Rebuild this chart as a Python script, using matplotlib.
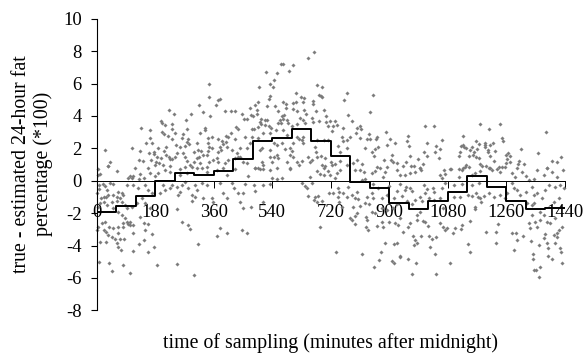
"""
Difference between true and estimated 24-hour fat percentage by time of sampling.
"""

import matplotlib
matplotlib.use("Agg")
import matplotlib.pyplot as plt

plt.rcParams['font.family'] = ['Liberation Serif', 'DejaVu Serif']

# Hourly mean of the difference (one value per 60 minute bin)
bin_edges = list(range(0, 1500, 60))
bin_means = [-1.96, -1.55, -0.95, -0.02, 0.50, 0.35, 0.60, 1.32, 2.45, 2.65, 3.20, 2.47,
             1.52, -0.06, -0.43, -1.40, -1.75, -1.25, -0.68, 0.29, -0.37, -1.24, -1.75, -1.67]

# Individual samples (minutes, difference)
samples_night_upper = [
    (344, 5.95), (347, 5.19), (378, 5.07), (373, 4.99), (367, 4.66), (316, 4.70), (327, 4.22), (348, 4.00),
    (223, 4.35), (238, 4.14), (290, 4.12), (275, 3.77), (197, 3.71), (201, 3.54), (209, 3.42), (233, 3.52),
    (137, 3.25), (165, 3.15), (231, 3.21), (277, 3.19), (332, 3.25), (333, 3.11), (201, 3.01), (208, 2.88),
    (241, 2.93), (319, 2.95), (265, 2.86), (261, 2.64), (219, 2.76), (232, 2.60), (164, 2.62), (151, 2.35),
    (170, 2.31), (282, 2.55), (279, 2.41), (341, 2.62), (354, 2.68), (373, 2.58), (397, 2.78), (403, 2.72),
    (412, 2.93), (429, 3.30), (436, 3.17), (394, 4.28), (413, 4.28), (424, 4.28), (426, 2.55), (387, 2.45),
    (397, 2.41), (390, 2.27), (380, 2.10), (110, 2.04), (134, 1.83), (161, 1.73), (176, 1.79), (175, 1.65),
    (188, 2.04), (212, 2.06), (207, 1.85), (245, 2.18), (257, 2.10), (272, 2.16), (284, 2.27), (308, 2.31),
    (341, 2.31), (344, 2.10), (26, 1.90), (41, 1.13), (35, 0.91), (130, 1.26), (143, 1.24), (166, 1.28),
    (184, 1.48), (197, 1.42), (181, 1.17), (193, 1.07), (213, 1.61), (221, 1.48), (226, 1.34), (233, 1.32),
    (241, 1.44), (248, 1.69), (267, 1.73), (272, 1.44), (279, 1.24), (298, 1.79), (311, 1.87), (320, 1.85),
    (328, 1.59), (316, 1.44), (310, 1.42), (341, 1.85), (354, 2.00), (339, 1.59), (374, 1.75), (383, 1.90),
    (400, 2.10), (416, 1.90), (431, 1.69), (369, 1.38), (359, 1.28), (344, 1.17), (318, 1.07), (298, 1.17),
    (287, 0.97), (272, 0.87), (257, 0.74), (226, 0.91), (205, 0.97), (180, 0.97), (159, 0.76), (118, 0.76),
    (4, 0.74), (395, 1.07), (405, 1.28), (426, 1.38), (436, 1.48), (390, 0.76), (374, 1.17), (339, 0.87),
    (323, 0.76), (308, 0.76), (292, 0.82),
]
samples_night_lower = [
    (5, 0.35), (10, 0.39), (36, 0.91), (62, 0.62), (133, 0.39), (113, 0.31), (103, 0.29), (97, 0.19),
    (108, 0.14), (131, 0.10), (144, 0.19), (190, 0.45), (210, 0.66), (180, 0.31), (164, 0.45), (369, 0.66),
    (426, 0.72), (226, 0.56), (257, 0.35), (277, 0.45), (339, 0.56), (400, 0.35),
    (8, -0.27), (18, -0.23), (26, -0.31), (31, -0.58), (21, -0.99), (12, -1.09), (2, -0.78), (8, -0.52),
    (41, -0.16), (51, -0.23), (67, -0.68), (77, -0.78), (82, -0.89), (72, -1.09), (62, -0.99), (51, -0.89),
    (36, -0.89), (29, -0.99), (21, -1.30), (10, -1.40), (5, -1.61), (31, -1.50), (46, -1.30), (62, -1.26),
    (77, -1.30), (92, -0.27), (113, -0.27), (128, -0.47), (149, -0.27), (159, -0.58), (169, -0.78), (139, -1.09),
    (123, -1.40), (108, -1.61), (92, -1.71), (87, -1.50), (149, -1.40), (164, -1.71), (195, -0.78), (210, -0.58),
    (231, -0.27), (226, -0.47), (205, -0.27), (246, -0.37), (262, -0.27), (272, -0.06), (257, -0.68), (251, -0.89),
    (282, -0.47), (292, -0.89), (308, -0.58), (303, -0.99), (292, -1.26), (328, -1.09), (354, -1.09), (359, -1.30),
    (390, -0.78), (400, -1.09), (421, -0.47), (436, -0.78), (416, -0.16), (380, -0.16), (339, -0.27), (323, -0.16),
    (303, -0.27), (51, -1.71), (67, -1.92), (77, -2.12), (87, -2.33), (103, -2.53), (113, -2.74), (103, -2.74),
    (82, -2.84), (67, -2.84), (51, -2.95), (39, -2.84), (26, -2.53), (15, -2.64), (5, -2.84), (0, -3.05),
    (23, -3.05), (29, -3.15), (36, -3.36), (46, -3.46), (56, -3.61), (62, -3.87), (64, -4.08), (74, -4.28),
    (72, -3.61), (85, -3.61), (10, -3.77), (29, -3.81), (113, -3.25), (144, -2.64), (159, -2.70), (149, -3.05),
    (144, -3.67), (131, -3.91), (113, -4.35), (159, -4.43), (176, -4.12), (171, -3.30), (133, -2.22), (246, -1.77),
    (262, -2.53), (282, -2.74), (287, -2.99), (311, -3.91), (371, -3.40), (378, -2.90), (402, -3.25), (7, -5.01),
    (37, -5.05), (80, -5.21), (48, -5.58), (101, -5.71), (186, -5.21), (248, -5.15), (298, -5.83), (92, -2.53),
    (97, -2.70), (82, -2.64), (67, -3.25),
]
samples_day_upper = [
    (670, 7.93), (651, 7.56), (566, 7.23), (572, 7.19), (603, 7.15), (593, 6.80), (522, 6.74), (554, 6.63),
    (544, 6.24), (533, 5.95), (542, 5.81), (499, 5.77), (678, 5.89), (693, 5.79), (769, 5.44), (850, 5.31),
    (613, 5.40), (533, 5.23), (529, 5.07), (630, 5.19), (638, 5.11), (685, 5.29), (690, 5.25), (694, 5.15),
    (761, 5.01), (667, 4.94), (574, 4.84), (583, 4.74), (497, 4.86), (487, 4.68), (472, 4.51), (494, 4.37),
    (523, 4.64), (549, 4.64), (636, 4.84), (605, 4.82), (613, 4.84), (583, 4.51), (605, 4.43), (615, 4.33),
    (559, 4.31), (639, 4.37), (665, 4.72), (675, 4.31), (700, 4.37), (448, 4.14), (475, 4.06), (482, 4.00),
    (494, 4.12), (569, 4.00), (564, 3.75), (574, 3.81), (577, 4.06), (643, 4.12), (772, 4.08), (841, 4.22),
    (705, 4.00), (454, 3.79), (462, 3.79), (505, 3.81), (503, 3.61), (518, 3.75), (525, 3.75), (477, 3.19),
    (484, 3.17), (497, 3.30), (506, 3.50), (518, 3.44), (531, 3.36), (536, 3.23), (559, 3.54), (566, 3.58),
    (585, 3.75), (590, 3.54), (600, 3.40), (615, 3.48), (626, 3.85), (634, 3.75), (641, 3.54), (662, 3.85),
    (667, 3.65), (683, 3.67), (706, 3.65), (718, 3.69), (733, 3.69), (713, 3.38), (726, 3.38), (723, 3.09),
    (739, 3.44), (757, 3.23), (786, 3.71), (800, 3.23), (810, 3.38), (812, 3.17), (798, 2.93), (810, 2.66),
    (839, 2.86), (831, 2.58), (841, 2.55), (862, 2.72), (860, 2.58), (890, 2.99), (903, 2.58), (918, 2.31),
    (892, 2.20), (867, 2.06), (826, 2.00), (857, 1.94), (846, 1.79), (854, 1.52), (910, 1.59), (885, 1.28),
    (905, 1.28), (911, 1.17), (923, 1.11), (769, 2.51), (780, 2.72), (754, 2.72), (759, 2.47), (744, 2.14),
    (771, 2.00), (749, 1.79), (713, 2.51), (698, 2.51), (677, 2.51), (672, 2.06), (675, 1.79), (656, 1.17),
    (679, 1.48), (690, 1.54), (703, 1.38), (720, 1.17), (692, 0.97), (703, 0.91), (723, 0.97), (733, 1.03),
    (749, 1.22), (771, 0.97), (790, 1.11), (800, 1.28), (815, 1.03), (862, 0.87), (872, 0.76), (892, 0.87),
    (636, 2.72), (631, 2.51), (615, 2.72), (621, 2.55), (636, 2.31), (605, 2.31), (595, 2.00), (580, 1.94),
    (600, 1.85), (544, 2.31), (554, 2.20), (569, 2.31), (533, 1.90), (508, 2.00), (503, 1.90), (462, 2.00),
    (472, 2.31), (456, 2.72), (477, 2.72), (497, 2.62), (513, 2.93), (533, 2.93), (552, 3.13), (574, 3.13),
    (585, 2.82), (451, 1.17), (462, 1.07), (508, 1.17), (487, 0.76), (497, 0.76), (513, 0.97), (533, 1.48),
    (544, 1.44), (554, 1.59), (538, 1.17), (559, 1.38), (554, 0.76), (595, 1.59), (605, 1.48), (585, 1.17),
    (615, 1.17), (631, 1.24), (621, 0.97), (595, 0.76), (651, 1.48), (662, 1.28), (441, 1.48), (441, 2.00),
]
samples_day_lower = [
    (487, 0.76), (503, 0.72), (513, 0.70), (533, 0.66), (595, 0.72), (677, 0.60), (698, 0.80), (713, 0.60),
    (687, 0.39), (656, 0.25), (739, 0.45), (749, 0.66), (538, 0.14), (556, 0.10), (569, 0.14), (464, 0.31),
    (795, 0.66), (810, 0.66), (823, 0.56), (846, 0.45), (857, 0.60), (882, 0.25), (933, 0.35), (923, 0.66),
    (887, 0.56), (698, 0.35), (718, 0.35), (733, 0.14), (815, 0.04), (826, 0.10),
    (456, -0.23), (484, -0.27), (511, -0.27), (533, -0.23), (487, -0.64), (449, -0.78), (513, -1.30), (451, -1.67),
    (474, -1.65), (441, -1.34), (633, -0.16), (641, -0.31), (646, -0.47), (662, -0.16), (649, -0.95), (672, -0.99),
    (682, -0.93), (669, -1.19), (679, -1.30), (692, -1.26), (716, -0.78), (728, -0.78), (744, -0.47), (747, -0.68),
    (744, -0.99), (746, -1.30), (754, -1.61), (774, -0.37), (759, -0.78), (769, -0.99), (785, -0.89), (795, -1.09),
    (805, -1.15), (810, -1.55), (826, -1.40), (839, -1.46), (849, -1.09), (846, -0.78), (831, -0.99), (802, -0.72),
    (790, -1.61), (802, -2.02), (795, -2.16), (780, -2.29), (785, -2.43), (795, -2.70), (829, -2.22), (831, -2.43),
    (829, -2.84), (836, -3.05), (846, -1.92), (857, -2.02), (864, -2.78), (879, -2.53), (882, -2.84), (898, -2.53),
    (918, -2.64), (928, -2.74), (933, -2.33), (913, -1.71), (923, -1.46), (892, -1.81), (877, -1.71), (686, -2.86),
    (446, -3.05), (462, -3.23), (886, -3.83), (914, -3.91), (925, -3.83), (874, -4.39), (735, -4.43), (817, -4.53),
    (932, -4.70), (870, -4.90), (908, -4.96), (914, -5.11), (853, -5.31), (851, -0.23), (867, -0.43), (898, -0.31),
    (923, -0.64), (915, -1.09), (892, -0.89), (877, -1.09),
]
samples_evening_upper = [
    (1010, 3.40), (1039, 3.36), (1180, 3.50), (1240, 3.50), (1208, 3.17), (1383, 3.03), (959, 2.74), (1126, 2.76),
    (955, 2.43), (1063, 2.51), (1016, 2.31), (961, 2.16), (1247, 2.62), (1249, 2.47), (1043, 2.12), (1055, 1.96),
    (1127, 2.20), (1122, 2.16), (1131, 2.10), (1135, 2.04), (1167, 2.43), (1175, 2.27), (1155, 2.10), (1148, 1.87),
    (1162, 1.79), (1170, 1.96), (1196, 2.31), (1194, 2.20), (1209, 2.20), (1219, 2.35), (1196, 2.10), (1203, 1.90),
    (1203, 1.75), (1226, 1.83), (1119, 1.79), (1116, 1.50), (1146, 1.52), (1157, 1.57), (1167, 1.46), (1177, 1.38),
    (1008, 1.77), (1040, 1.75), (1054, 1.40), (1015, 1.50), (988, 1.36), (963, 1.50), (953, 1.17), (942, 0.91),
    (968, 0.93), (1003, 1.05), (996, 0.78), (1210, 1.50), (1221, 1.24), (1267, 1.73), (1273, 1.54), (1258, 1.59),
    (1262, 1.34), (1271, 1.17), (1307, 1.98), (1358, 1.71), (1300, 1.24), (1295, 1.03), (1316, 1.03), (1402, 1.22),
    (1415, 1.13), (1428, 1.44), (1385, 0.76), (1178, 1.05), (1187, 0.89), (1197, 0.89), (1211, 0.80), (1238, 0.84),
    (1256, 0.87), (1260, 1.07), (1135, 0.95), (1147, 0.82), (1127, 0.78), (1089, 0.74), (1069, 0.66), (1116, 0.70),
]
samples_evening_lower = [
    (975, 0.91), (994, 0.80), (998, 0.66), (965, 0.45), (980, 0.56), (949, 0.35), (1055, 0.35), (1062, 0.14),
    (1073, 0.39), (1088, 0.72), (1114, 0.25), (1124, 0.66), (1134, 0.87), (1155, 0.35), (1165, 0.45), (1180, 0.60),
    (1206, 0.76), (1216, 0.66), (1232, 0.72), (1247, 0.87), (1278, 0.45), (1288, 0.25), (1308, 0.56), (1322, 0.31),
    (1329, 0.04), (1344, 0.10), (1355, 0.66), (1375, 0.35), (1385, 0.76), (1401, 0.52), (1416, 0.25), (1434, 0.66),
    (1293, 0.80), (1242, 0.56),
    (934, -0.23), (952, -0.37), (965, -0.47), (970, -0.64), (949, -0.58), (1006, -0.27), (1016, -0.52), (1034, -0.47),
    (1037, -0.68), (1011, -0.78), (1062, -0.47), (1073, -0.16), (1098, -0.27), (1124, -0.23), (1057, -1.09), (939, -0.93),
    (955, -1.26), (970, -1.46), (996, -1.03), (980, -1.19), (1001, -1.26), (1024, -1.09), (1037, -1.19), (1067, -1.71),
    (1100, -0.99), (1119, -0.99), (1144, -0.89), (1155, -0.95), (1168, -0.78), (1172, -0.99), (1180, -1.09), (1191, -0.93),
    (1182, -1.30), (1165, -1.61), (1165, -1.75), (1149, -2.49), (1155, -0.27), (1177, -0.16), (1206, -0.78), (1221, -0.99),
    (1242, -0.89), (1257, -1.09), (1262, -0.78), (1278, -0.16), (1283, -0.47), (1293, -0.58), (1303, -0.89), (1322, -0.68),
    (1339, -0.37), (1344, -0.89), (1355, -0.78), (1370, -1.09), (1380, -0.58), (1391, -0.27), (1411, -0.37), (1426, -0.27),
    (1406, -1.30), (1421, -1.09), (1437, -0.47), (1324, -1.40), (1339, -1.50), (1344, -1.40), (1365, -1.92), (1375, -2.12),
    (1365, -2.43), (1350, -2.53), (1339, -2.12), (1329, -2.64), (1334, -2.95), (1355, -2.84), (1385, -2.53), (1396, -2.64),
    (1411, -2.33), (1432, -2.84), (1421, -3.05), (1416, -3.25), (1406, -3.36), (1416, -3.46), (1380, -3.32), (1375, -3.52),
    (1360, -3.98), (1337, -3.73), (1387, -3.83), (1411, -3.87), (1424, -4.14), (1389, -4.18), (1429, -4.43), (1341, -4.53),
    (1342, -4.86), (1389, -4.64), (1401, -4.86), (1432, -5.07), (1365, -5.31), (1347, -5.52), (1362, -5.93), (1353, -5.52),
    (985, -2.12), (985, -2.43), (965, -2.64), (957, -2.84), (941, -3.15), (973, -3.40), (980, -3.67), (975, -3.98),
    (985, -3.87), (998, -3.40), (1004, -2.49), (1011, -2.58), (1018, -2.80), (996, -1.92), (1057, -2.64), (1067, -2.84),
    (1078, -2.95), (1096, -3.25), (1124, -2.74), (1103, -2.95), (1121, -2.99), (1073, -3.05), (1024, -3.40), (1045, -3.46),
    (1031, -3.61), (1026, -4.08), (1142, -3.91), (1149, -4.43), (1042, -4.53), (957, -4.84), (934, -4.66), (981, -5.11),
    (1086, -5.11), (971, -5.77), (1043, -5.73), (1199, -3.15), (1229, -3.15), (1234, -2.70), (1228, -3.87), (1278, -3.25),
    (1291, -3.25), (1312, -3.40), (1293, -3.67), (1283, -4.28),
]

x_ticks = [0, 180, 360, 540, 720, 900, 1080, 1260, 1440]
y_ticks = [-8, -6, -4, -2, 0, 2, 4, 6, 8, 10]

W, H = 584, 360
LABEL_SIZE = 14.3
TICK_SIZE = 13.4

fig = plt.figure(figsize=(W / 100, H / 100), dpi=100)
ax = fig.add_axes([96.7 / W, 1 - 310.3 / H, 468 / W, 291.6 / H])

# Scatter of all samples
all_samples = (samples_night_upper + samples_night_lower + samples_day_upper
               + samples_day_lower + samples_evening_upper + samples_evening_lower)
times = [s[0] for s in all_samples]
diffs = [s[1] for s in all_samples]
ax.plot(times, diffs, linestyle='none', marker='D', markersize=1.8,
        markerfacecolor='#7a7a7a', markeredgecolor='#7a7a7a', markeredgewidth=0.2,
        clip_on=False, zorder=2)

# Stepped hourly means
ax.step(bin_edges, bin_means + bin_means[-1:], where='post', color='black', linewidth=1.4, zorder=3)

ax.set_xlim(0, 1440)
ax.set_ylim(-8, 10)
ax.set_xticks(x_ticks)
ax.set_yticks(y_ticks)
ax.set_yticklabels([str(v) for v in y_ticks])

ax.spines['top'].set_visible(False)
ax.spines['right'].set_visible(False)
ax.spines['bottom'].set_position(('data', 0))
ax.spines['bottom'].set_linewidth(0.7)
ax.spines['left'].set_linewidth(0.8)
ax.patch.set_visible(False)

ax.tick_params(axis='x', length=5, width=0.7, pad=11.5, labelsize=TICK_SIZE)
ax.tick_params(axis='y', length=4.3, width=0.8, pad=6.5, labelsize=TICK_SIZE)
for label in ax.get_xticklabels():
    label.set_zorder(5)

fig.text(32.5 / W, 1 - 164 / H, "true - estimated 24-hour fat\npercentage (*100)", fontsize=LABEL_SIZE,
         rotation=90, ha='center', va='center', multialignment='center', linespacing=1.2)
fig.text(330.5 / W, 1 - 343 / H, "time of sampling (minutes after midnight)",
         fontsize=LABEL_SIZE, ha='center', va='center')

fig.savefig("out.png", dpi=100)
plt.close(fig)
